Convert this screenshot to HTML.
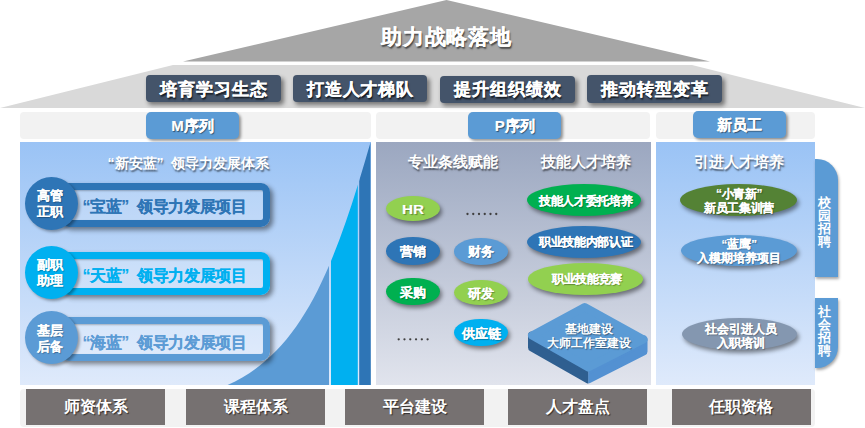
<!DOCTYPE html>
<html><head><meta charset="utf-8">
<style>
*{margin:0;padding:0;box-sizing:border-box}
html,body{width:865px;height:428px;overflow:hidden;background:#fff}
body{position:relative;font-family:"Liberation Sans",sans-serif;}
.a{position:absolute}
.c{display:flex;align-items:center;justify-content:center;text-align:center;white-space:nowrap}
.btn{background:#44546a;border-radius:4px;box-shadow:2.5px 3px 4px rgba(0,0,0,.45);color:#fff;font-weight:bold;font-size:17px;letter-spacing:0.9px;text-indent:0.9px;text-shadow:1px 1.5px 1.5px rgba(0,0,0,.75);-webkit-text-stroke:0.25px #fff;padding-top:1px}
.bar{background:#f2f2f2;border-radius:4px}
.sec{background:#5b9bd5;border-radius:5px;box-shadow:2px 2px 3px rgba(0,0,0,.4);color:#fff;font-weight:bold;font-size:15px;padding-top:2px;-webkit-text-stroke:0.2px #fff;text-shadow:1px 1px 1px rgba(0,0,0,.5)}
.box{background:#767171;color:#fff;font-weight:bold;font-size:16px;text-shadow:1px 1px 1px rgba(0,0,0,.6)}
.ptitle{color:#fff;font-weight:bold;font-size:14px;text-shadow:1px 1.5px 1.5px rgba(0,0,0,.5)}
.circ{border-radius:50%;color:#fff;font-weight:bold;font-size:13.4px;line-height:16px;padding-top:2px;padding-right:2px;-webkit-text-stroke:0.15px #fff;box-shadow:2px 2px 3px rgba(0,0,0,.35);text-shadow:1px 1px 1px rgba(0,0,0,.3)}
.rr{border-style:solid;border-width:7px;border-radius:9px;box-shadow:3px 3px 5px rgba(0,0,0,.45), inset 1px 1px 2px rgba(0,0,0,.25);font-weight:bold;font-size:16px;letter-spacing:-0.4px;justify-content:flex-start;padding-top:6px;-webkit-text-stroke:0.1px currentColor}
.el{border-radius:50%;color:#fff;font-weight:bold;box-shadow:2px 3px 4px rgba(0,0,0,.45);padding-top:2px;-webkit-text-stroke:0.15px #fff;text-shadow:1px 1px 1px rgba(0,0,0,.35)}
.ql{display:inline-block;width:1em;text-align:right}
.qr{display:inline-block;width:1em;text-align:left}
.tab{background:#5b9bd5;color:#fff;font-weight:bold;font-size:13px;line-height:13px;padding-right:4px;box-shadow:1px 2px 3px rgba(0,0,0,.35);flex-direction:column}
</style></head><body>

<!-- roof -->
<svg class="a" style="left:0;top:0" width="865" height="110">
  <polygon points="0,108 173,65 692,65 865,108" fill="#d9d9d9"/>
  <polygon points="183,61.5 446.5,0 710,61.5" fill="#a6a6a6"/>
</svg>
<div class="a c" style="left:346px;top:21px;width:200px;height:32px;color:#fff;font-weight:bold;font-size:21px;letter-spacing:0.8px;text-indent:0.8px;text-shadow:1px 1.5px 1.5px rgba(0,0,0,.6);-webkit-text-stroke:0.15px #fff"><span>助力战略落地</span></div>

<div class="a c btn" style="left:146px;top:75px;width:135px;height:27px"><span>培育学习生态</span></div>
<div class="a c btn" style="left:293px;top:75px;width:134px;height:27px"><span>打造人才梯队</span></div>
<div class="a c btn" style="left:440px;top:75.5px;width:135px;height:27.5px"><span>提升组织绩效</span></div>
<div class="a c btn" style="left:587px;top:75px;width:135px;height:27.5px"><span>推动转型变革</span></div>

<!-- header bars -->
<div class="a bar" style="left:20px;top:111.7px;width:351px;height:27.7px"></div>
<div class="a bar" style="left:375.7px;top:111.7px;width:274.6px;height:27.7px"></div>
<div class="a bar" style="left:655.6px;top:111.7px;width:159.7px;height:27.7px"></div>
<div class="a c sec" style="left:146px;top:111.5px;width:93px;height:27.5px"><span>M序列</span></div>
<div class="a c sec" style="left:468px;top:111.5px;width:93.3px;height:27.5px"><span>P序列</span></div>
<div class="a c sec" style="left:693px;top:111px;width:93px;height:27px"><span>新员工</span></div>

<!-- panels -->
<div class="a" style="left:20px;top:142px;width:351px;height:243px;background:linear-gradient(#9ac3f5,#dfeafb)"></div>
<div class="a" style="left:375.7px;top:142px;width:275px;height:243px;background:linear-gradient(#9ba7c0,#e1e4ed)"></div>
<div class="a" style="left:655.6px;top:142px;width:159.7px;height:243px;background:linear-gradient(#9ac3f5,#dfeafb)"></div>


<!-- left panel content -->
<svg class="a" style="left:0;top:0" width="865" height="428">
  <defs>
    <clipPath id="c1"><rect x="0" y="0" width="329" height="385"/></clipPath>
    <clipPath id="c2"><rect x="331" y="0" width="26.8" height="385"/></clipPath>
    <clipPath id="c3"><rect x="359.2" y="0" width="11.6" height="385"/></clipPath>
  </defs>
  <path d="M227.6,385 C302,351.7 334.2,268.6 370.6,142 L371,385 Z" fill="#5b9bd5" clip-path="url(#c1)"/>
  <path d="M227.6,385 C302,351.7 334.2,268.6 370.6,142 L371,385 Z" fill="#00b0f0" clip-path="url(#c2)"/>
  <path d="M227.6,385 C302,351.7 334.2,268.6 370.6,142 L371,385 Z" fill="#2e75b6" clip-path="url(#c3)"/>
</svg>
<div class="a c ptitle" style="left:84.5px;top:153.5px;width:200px;height:20px;font-size:14.1px"><span><span class="ql">“</span>新安蓝<span class="qr">”</span>领导力发展体系</span></div>

<div class="a c rr" style="left:60px;top:183px;width:209.6px;height:43.5px;border-color:#2e75b6;color:#2e75b6;background:rgba(255,255,255,.2);padding-left:7px"><span><span class="ql">“</span>宝蓝<span class="qr">”</span>领导力发展项目</span></div>
<div class="a c circ" style="left:24.5px;top:176.5px;width:53px;height:53px;background:#2e75b6"><span>高管<br>正职</span></div>

<div class="a c rr" style="left:60px;top:252px;width:209.6px;height:43px;border-color:#00b0f0;color:#00b0f0;background:rgba(255,255,255,.2);padding-left:7px"><span><span class="ql">“</span>天蓝<span class="qr">”</span>领导力发展项目</span></div>
<div class="a c circ" style="left:24.5px;top:245.5px;width:53px;height:53px;background:#00b0f0"><span>副职<br>助理</span></div>

<div class="a c rr" style="left:60px;top:317px;width:209.6px;height:43.8px;border-color:#5b9bd5;color:#5b9bd5;background:rgba(255,255,255,.2);padding-left:7px;padding-top:10px"><span><span class="ql">“</span>海蓝<span class="qr">”</span>领导力发展项目</span></div>
<div class="a c circ" style="left:24.5px;top:311px;width:53px;height:53px;background:#5b9bd5"><span>基层<br>后备</span></div>

<!-- middle panel -->
<div class="a c ptitle" style="left:403px;top:152px;width:100px;height:20px;font-size:15px"><span>专业条线赋能</span></div>
<div class="a c ptitle" style="left:536px;top:152px;width:100px;height:20px;font-size:15px"><span>技能人才培养</span></div>
<div class="a c el" style="left:386px;top:196px;width:54.3px;height:25.4px;background:#92d050;font-size:13px;padding-top:2px"><span style="font-size:12.5px;display:inline-block;transform:scaleX(1.22)">HR</span></div>
<div class="a c el" style="left:386px;top:237px;width:53.6px;height:27.5px;background:#2e75b6;font-size:13px"><span>营销</span></div>
<div class="a c el" style="left:454.4px;top:238px;width:53.6px;height:26.5px;background:#5b9bd5;font-size:13px"><span>财务</span></div>
<div class="a c el" style="left:386px;top:277.7px;width:53.6px;height:27.8px;background:#00b050;font-size:13px"><span>采购</span></div>
<div class="a c el" style="left:454.4px;top:279.7px;width:53.6px;height:25.8px;background:#92d050;font-size:13px"><span>研发</span></div>
<div class="a c el" style="left:454.4px;top:318.6px;width:53.6px;height:27.9px;background:#00b0f0;font-size:13px"><span>供应链</span></div>
<svg class="a" style="left:0;top:0" width="865" height="428">
  <g fill="#404040"><circle cx="467.50" cy="214" r="1.15"/><circle cx="473.25" cy="214" r="1.15"/><circle cx="479.00" cy="214" r="1.15"/><circle cx="484.75" cy="214" r="1.15"/><circle cx="490.50" cy="214" r="1.15"/><circle cx="496.25" cy="214" r="1.15"/><circle cx="398.70" cy="339.3" r="1.15"/><circle cx="404.48" cy="339.3" r="1.15"/><circle cx="410.26" cy="339.3" r="1.15"/><circle cx="416.04" cy="339.3" r="1.15"/><circle cx="421.82" cy="339.3" r="1.15"/><circle cx="427.60" cy="339.3" r="1.15"/></g>
</svg>
<div class="a c el" style="left:527.2px;top:184.3px;width:114.2px;height:32px;background:#00b050;font-size:12px;letter-spacing:-0.35px;padding-left:3px"><span>技能人才委托培养</span></div>
<div class="a c el" style="left:527.2px;top:225.6px;width:114.2px;height:32.2px;background:#2e75b6;font-size:12px;letter-spacing:-0.35px;padding-left:3px"><span>职业技能内部认证</span></div>
<div class="a c el" style="left:528.4px;top:263px;width:114.5px;height:31.5px;background:#92d050;font-size:12px;letter-spacing:-0.35px;padding-left:3px"><span>职业技能竞赛</span></div>
<svg class="a" style="left:0;top:0" width="865" height="428">
  <defs>
    <clipPath id="sl"><rect x="500" y="280" width="88.5" height="120"/></clipPath>
    <clipPath id="sr"><rect x="588.5" y="280" width="80" height="120"/></clipPath>
  </defs>
  <g clip-path="url(#sl)" fill="#2f5f90" stroke="#2f5f90" stroke-width="8" stroke-linejoin="round">
    <polygon points="532,335.6 588.3,367.4 643.5,339.4 643.5,351.4 588.3,379.4 532,347.6"/>
  </g>
  <g clip-path="url(#sr)" fill="#5391d2" stroke="#5391d2" stroke-width="8" stroke-linejoin="round">
    <polygon points="532,335.6 588.3,367.4 643.5,339.4 643.5,351.4 588.3,379.4 532,347.6"/>
  </g>
  <line x1="588.5" y1="372" x2="588.5" y2="383" stroke="#5a8fc8" stroke-width="0.8"/>
  <polygon points="584.7,307.1 532,335.6 588.3,367.4 643.5,339.4" fill="#5b9bd5" stroke="#5b9bd5" stroke-width="8" stroke-linejoin="round"/>
</svg>
<div class="a c" style="left:539px;top:321px;width:100px;height:30px;flex-direction:column;color:#fff;font-size:11.6px;line-height:14px;font-weight:bold;text-shadow:1px 1px 1px rgba(0,0,0,.4)"><span>基地建设<br>大师工作室建设</span></div>

<!-- right panel -->
<div class="a c ptitle" style="left:688.5px;top:152px;width:100px;height:20px;font-size:15px"><span>引进人才培养</span></div>
<div class="a c el" style="left:679.5px;top:183.5px;width:117px;height:32px;background:#548235;font-size:12px;letter-spacing:-0.4px;line-height:14px;padding-top:2px;padding-left:2px"><span><span class="ql">“</span>小青新<span class="qr">”</span><br>新员工集训营</span></div>
<div class="a c el" style="left:681.2px;top:234.9px;width:116px;height:31.1px;background:#5b9bd5;font-size:11.6px;line-height:14px"><span><span class="ql">“</span>蓝鹰<span class="qr">”</span><br>入模期培养项目</span></div>
<div class="a c el" style="left:681.5px;top:317.6px;width:115px;height:32px;background:#8497b0;font-size:11.6px;line-height:14px;padding-left:4px;padding-top:4px"><span>社会引进人员<br>入职培训</span></div>
<div class="a c tab" style="left:815.3px;top:159px;width:22.7px;height:118.4px;border-top-right-radius:21px;padding-top:8px"><span>校<br>园<br>招<br>聘</span></div>
<div class="a c tab" style="left:815.3px;top:297.8px;width:22.7px;height:70.2px;border-bottom-right-radius:21px;padding-bottom:4px"><span>社<br>会<br>招<br>聘</span></div>

<!-- bottom -->
<div class="a bar" style="left:20px;top:388.5px;width:795px;height:38.5px;background:#f2f2f2"></div>
<div class="a c box" style="left:26px;top:389px;width:139px;height:36px"><span>师资体系</span></div>
<div class="a c box" style="left:186px;top:389px;width:139px;height:36px"><span>课程体系</span></div>
<div class="a c box" style="left:345px;top:389px;width:139px;height:36px"><span>平台建设</span></div>
<div class="a c box" style="left:508px;top:389px;width:139px;height:36px"><span>人才盘点</span></div>
<div class="a c box" style="left:671.5px;top:389px;width:139px;height:36px"><span>任职资格</span></div>

</body></html>
